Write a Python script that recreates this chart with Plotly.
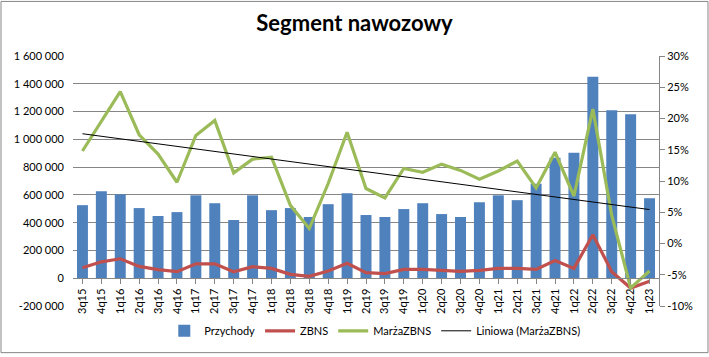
import numpy as np
import plotly.graph_objects as go

categories = ["3q15", "4q15", "1q16", "2q16", "3q16", "4q16", "1q17", "2q17", "3q17", "4q17",
              "1q18", "2q18", "3q18", "4q18", "1q19", "2q19", "3q19", "4q19", "1q20", "2q20",
              "3q20", "4q20", "1q21", "2q21", "3q21", "4q21", "1q22", "2q22", "3q22", "4q22", "1q23"]

przychody = [526000, 626000, 604000, 505000, 448000, 476000, 597000, 540000, 419000, 597000,
             490000, 505000, 441000, 533000, 611000, 455000, 441000, 498000, 540000, 462000,
             441000, 547000, 597000, 562000, 680000, 867000, 903000, 1450000, 1209000, 1180000, 576000]

zbns = [76000, 118000, 140000, 85000, 62000, 47000, 104000, 104000, 47000, 83000,
        71000, 28000, 14000, 52000, 107000, 40000, 33000, 64000, 64000, 57000,
        50000, 57000, 71000, 71000, 64000, 128000, 71000, 313000, 47000, -71000, -21000]

marza = [14.8, 19.6, 24.3, 17.4, 14.3, 9.8, 17.3, 19.7, 11.3, 13.5,
         13.8, 6.1, 2.4, 9.6, 17.8, 8.8, 7.3, 12.0, 11.4, 12.7,
         11.7, 10.3, 11.6, 13.2, 8.9, 14.6, 7.6, 21.5, 4.5, -7.1, -4.4]

left_tickvals = [-200000, 0, 200000, 400000, 600000, 800000, 1000000, 1200000, 1400000, 1600000]
left_ticktext = ["-200 000", "0", "200 000", "400 000", "600 000", "800 000",
                 "1 000 000", "1 200 000", "1 400 000", "1 600 000"]
right_tickvals = [-10, -5, 0, 5, 10, 15, 20, 25, 30]
right_ticktext = ["-10%", "-5%", "0%", "5%", "10%", "15%", "20%", "25%", "30%"]

# linear trendline (Excel "Liniowa") computed from the data
idx = np.arange(1, len(marza) + 1)
slope, intercept = np.polyfit(idx, marza, 1)
trend = slope * idx + intercept

FONT = "Lato"
fig = go.Figure()
fig.add_trace(go.Bar(x=categories, y=przychody, name="Przychody",
                     marker=dict(color="#4F81BD", line=dict(width=0))))
fig.add_trace(go.Scatter(x=categories, y=zbns, name="ZBNS", mode="lines",
                         line=dict(color="#C0504D", width=3.2)))
fig.add_trace(go.Scatter(x=categories, y=marza, name="MarżaZBNS", mode="lines",
                         line=dict(color="#9BBB59", width=3.2), yaxis="y2"))
fig.add_trace(go.Scatter(x=categories, y=trend, name="Liniowa (MarżaZBNS)", mode="lines",
                         line=dict(color="#000000", width=1), yaxis="y2"))

W, H = 709, 357
L, R, T, B = 73, 659, 56, 308
pw, ph = R - L, B - T


def px(x):
    return (x - L) / pw


def py(y):
    return (B - y) / ph


fig.update_layout(
    width=W, height=H,
    margin=dict(l=L, r=W - R, t=T, b=H - B, pad=0),
    paper_bgcolor="white", plot_bgcolor="white",
    font=dict(family=FONT, size=11, color="#000000"),
    title=dict(text="<b>Segment nawozowy</b>", x=0.5, xanchor="center",
               y=1 - 23 / H, yanchor="middle", font=dict(family=FONT, size=22)),
    bargap=0.42,
    showlegend=True,
    hovermode=False,
    legend=dict(orientation="h", x=0.515, xanchor="center", y=py(333), yanchor="middle",
                font=dict(family=FONT, size=11), bgcolor="rgba(0,0,0,0)",
                itemwidth=30, tracegroupgap=0),
    xaxis=dict(type="category", range=[-0.5, len(categories) - 0.5],
               anchor="free", position=py(280),
               showline=True, linecolor="#868686", linewidth=1,
               ticks="outside", ticklen=5, tickcolor="#868686",
               tickangle=-90, showgrid=False, zeroline=False,
               tickfont=dict(family=FONT, size=11)),
    yaxis=dict(range=[-200000, 1600000], tickvals=left_tickvals, ticktext=left_ticktext,
               showgrid=True, gridcolor="#868686", gridwidth=1, zeroline=False,
               showline=False, ticks="", ticklabelstandoff=8,
               tickfont=dict(family=FONT, size=11)),
    yaxis2=dict(range=[-10, 30], tickvals=right_tickvals, ticktext=right_ticktext,
                overlaying="y", side="right", showgrid=False, zeroline=False,
                showline=True, linecolor="#868686", linewidth=1,
                ticks="outside", ticklen=5, tickcolor="#868686",
                tickfont=dict(family=FONT, size=11)),
    shapes=[dict(type="rect", xref="paper", yref="paper",
                 x0=px(1), x1=px(708), y0=py(355), y1=py(1),
                 line=dict(color="#868686", width=1), fillcolor="rgba(0,0,0,0)", layer="below")],
)

fig.write_html("out.html", config={"displayModeBar": False},
               post_script="document.body.style.margin='0';document.body.style.padding='0';")
